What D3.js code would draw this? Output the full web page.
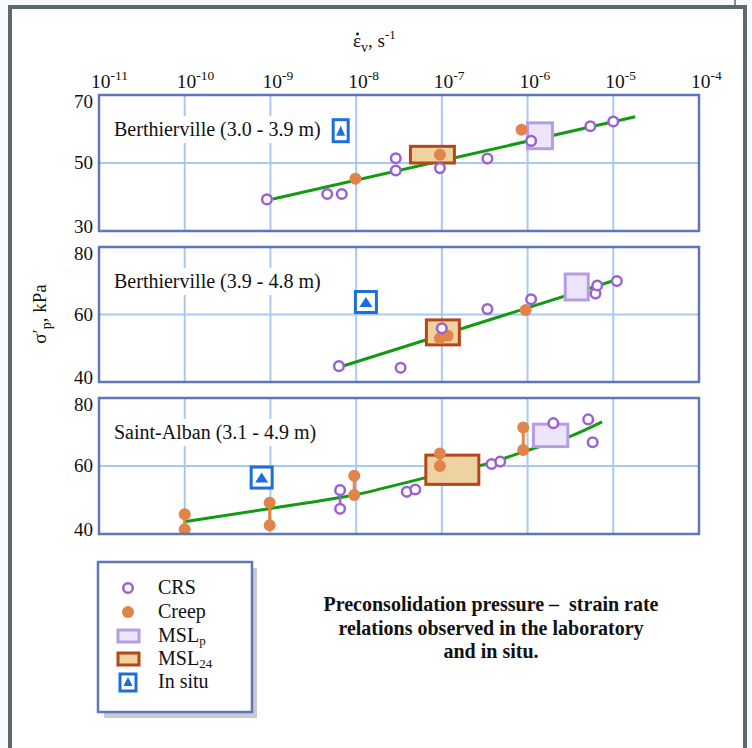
<!DOCTYPE html>
<html>
<head>
<script src="https://cdn.jsdelivr.net/npm/d3@7"></script>
<style>
body {
	margin: 0;
	background-color: #f7f9fa;
}
text {
	font-family: "Liberation Serif", "Times New Roman", serif;
	fill: #111;
}
</style>
</head>
<body>
<script>

// ---- data ----
var rateTicks = [1e-11, 1e-10, 1e-9, 1e-8, 1e-7, 1e-6, 1e-5, 1e-4];
var rateTickExp = ["-11", "-10", "-9", "-8", "-7", "-6", "-5", "-4"];

var panelNames = ["Berthierville (3.0 - 3.9 m)", "Berthierville (3.9 - 4.8 m)", "Saint-Alban (3.1 - 4.9 m)"];
var yDomains = [[30, 70], [40, 80], [40, 80]];
var yTickValues = [[30, 50, 70], [40, 60, 80], [40, 60, 80]];

// [strain rate, sigma'p]
var crsPoints = [
	[[9.1e-10, 39.3], [4.6e-9, 40.9], [6.8e-9, 40.9], [2.9e-8, 51.4], [2.9e-8, 47.8], [9.5e-8, 48.5], [3.4e-7, 51.3], [1.1e-6, 56.5], [5.4e-6, 60.8], [1.0e-5, 62.2]],
	[[6.3e-9, 44.7], [3.3e-8, 44.2], [1.0e-7, 55.9], [3.4e-7, 61.6], [1.1e-6, 64.5], [6.2e-6, 66.2], [6.5e-6, 68.6], [1.1e-5, 69.9]],
	[[6.5e-9, 52.9], [6.5e-9, 47.4], [3.9e-8, 52.4], [4.9e-8, 53.1], [3.8e-7, 60.6], [4.8e-7, 61.3], [2.0e-6, 72.6], [5.1e-6, 73.7], [5.75e-6, 67.0]]
];
var creepPoints = [
	[[9.8e-9, 45.4], [9.5e-8, 52.4], [8.5e-7, 59.8]],
	[[9.5e-8, 53.0], [1.17e-7, 53.7], [9.5e-7, 61.3]],
	[[1.0e-10, 45.8], [1.0e-10, 41.4], [9.8e-10, 49.2], [9.8e-10, 42.6], [9.5e-9, 57.1], [9.5e-9, 51.5], [9.5e-8, 63.7], [9.5e-8, 60.0], [8.9e-7, 71.3], [8.9e-7, 64.7]]
];
// [rate, low, high] pairs joined by a vertical bar
var creepLinks = [[], [], [[1.0e-10, 41.4, 45.8], [9.8e-10, 42.6, 49.2], [9.5e-9, 51.5, 57.1], [9.5e-8, 60.0, 63.7], [8.9e-7, 64.7, 71.3]]];
var crsLinks = [[], [], [[6.5e-9, 47.4, 52.9]]];

// [rate min, rate max, sigma min, sigma max]
var msl24Boxes = [[4.3e-8, 1.4e-7, 50.0, 54.9], [6.6e-8, 1.6e-7, 51.0, 58.4], [6.5e-8, 2.7e-7, 54.6, 63.2]];
var mslpBoxes = [[1.0e-6, 1.95e-6, 54.2, 61.8], [2.75e-6, 5.1e-6, 64.3, 72.0], [1.17e-6, 2.95e-6, 65.7, 72.3]];

var inSitu = [[6.6e-9, 59.5], [1.3e-8, 63.7], [7.9e-10, 56.6]];

var trendLines = [
	[[1.07e-9, 39.4], [1.8e-5, 63.6]],
	[[7.2e-9, 44.8], [1.0e-5, 70.0]],
	[[1.0e-10, 43.6], [1.0e-9, 47.5], [1.0e-8, 51.6], [6.3e-8, 56.5], [4.0e-7, 61.2], [1.0e-6, 64.6], [3.2e-6, 68.8], [7.4e-6, 73.0]]
];

var legendItems = ["CRS", "Creep", "MSL", "MSL", "In situ"];
var legendSubs = ["", "", "p", "24", ""];
var titleLines = ["Preconsolidation pressure \u2013\u00A0 strain rate", "relations observed in the laboratory", "and in situ."];

// ---- layout ----
var w = 752, h = 748;
var panelTop = [95, 247, 398];
var panelBottom = [231, 382, 534];
var situW = [15, 21, 21];
var situH = [22, 21, 21];

var cGrid = "#a9c9f1", cBorder = "#5f77ba", cCrs = "#9a62d0", cCreep = "#e0844a";
var cGreen = "#129a12", cBlue = "#1c6fd8";

var svg = d3.select("body").append("svg")
	.attr("width", w)
	.attr("height", h);

// outer frame
svg.append("rect")
	.attr("x", 10).attr("y", 7).attr("width", 735).attr("height", 800)
	.attr("fill", "white").attr("stroke", "#5c6870").attr("stroke-width", 4);
svg.append("line")
	.attr("x1", 735).attr("x2", 735).attr("y1", 0).attr("y2", 6)
	.attr("stroke", "#5c6870").attr("stroke-width", 1.5);

var x = d3.scaleLog().domain([1e-11, 1e-4]).range([99, 699]);

// top axis labels
var tl = svg.selectAll("text.tick").data(rateTicks).enter().append("text")
	.attr("class", "tick")
	.attr("x", function(d) { return x(d) - 8; })
	.attr("y", 88)
	.style("font-size", "19.5px");
tl.append("tspan").text("10");
tl.append("tspan").attr("dy", -8).style("font-size", "13.5px")
	.text(function(d, i) { return rateTickExp[i]; });

// top axis title: epsilon with a dot above
var eps = svg.append("text").attr("x", 353).attr("y", 47).style("font-size", "19px").text("\u03B5");
var eb = eps.node().getBBox();
svg.append("circle").attr("cx", eb.x + eb.width / 2 + 0.5).attr("cy", eb.y + 4).attr("r", 1.4).attr("fill", "#111");
var xt = svg.append("text").attr("x", eb.x + eb.width).attr("y", 47).style("font-size", "19px");
xt.append("tspan").attr("dy", 5).style("font-size", "14px").text("v");
xt.append("tspan").attr("dy", -5).text(", s");
xt.append("tspan").attr("dy", -8).style("font-size", "13px").text("-1");

// y title
var yt = svg.append("text")
	.attr("transform", "translate(46,314) rotate(-90)")
	.attr("text-anchor", "middle")
	.style("font-size", "19px");
yt.append("tspan").text("\u03C3\u2032");
yt.append("tspan").attr("dy", 5).style("font-size", "14px").text("p");
yt.append("tspan").attr("dy", -5).text(", kPa");

panelNames.forEach(function(name, i) {
	var y = d3.scaleLinear().domain(yDomains[i]).range([panelBottom[i], panelTop[i]]);
	var g = svg.append("g");

	// grid
	g.selectAll("line.vgrid").data(rateTicks.slice(1, -1)).enter().append("line")
		.attr("x1", function(d) { return x(d); })
		.attr("x2", function(d) { return x(d); })
		.attr("y1", panelTop[i]).attr("y2", panelBottom[i])
		.attr("stroke", cGrid).attr("stroke-width", 2);
	g.append("line")
		.attr("x1", x(1e-11)).attr("x2", x(1e-4))
		.attr("y1", y(yTickValues[i][1])).attr("y2", y(yTickValues[i][1]))
		.attr("stroke", cGrid).attr("stroke-width", 2);

	// panel label on white
	var lab = g.append("text")
		.attr("x", 114).attr("y", panelTop[i] + 41)
		.style("font-size", "20px")
		.text(name);
	var bb = lab.node().getBBox();
	g.insert("rect", "text")
		.attr("x", bb.x - 3).attr("y", bb.y - 2)
		.attr("width", bb.width + 6).attr("height", bb.height + 4)
		.attr("fill", "white");

	// trend
	g.append("path")
		.datum(trendLines[i])
		.attr("d", d3.line()
			.x(function(d) { return x(d[0]); })
			.y(function(d) { return y(d[1]); })
			.curve(d3.curveMonotoneX))
		.attr("fill", "none").attr("stroke", cGreen).attr("stroke-width", 3);

	// MSL boxes
	function box(b, fill, stroke, sw) {
		g.append("rect")
			.attr("x", x(b[0])).attr("y", y(b[3]))
			.attr("width", x(b[1]) - x(b[0])).attr("height", y(b[2]) - y(b[3]))
			.attr("fill", fill).attr("stroke", stroke).attr("stroke-width", sw);
	}
	box(msl24Boxes[i], "#efd2a2", "#b3461b", 3);
	box(mslpBoxes[i], "#ede6fb", "#b69ce2", 3);

	// links
	g.selectAll("line.clink").data(creepLinks[i]).enter().append("line")
		.attr("x1", function(d) { return x(d[0]); })
		.attr("x2", function(d) { return x(d[0]); })
		.attr("y1", function(d) { return y(d[1]); })
		.attr("y2", function(d) { return y(d[2]); })
		.attr("stroke", cCreep).attr("stroke-width", 3);
	g.selectAll("line.plink").data(crsLinks[i]).enter().append("line")
		.attr("x1", function(d) { return x(d[0]); })
		.attr("x2", function(d) { return x(d[0]); })
		.attr("y1", function(d) { return y(d[1]); })
		.attr("y2", function(d) { return y(d[2]); })
		.attr("stroke", cCrs).attr("stroke-width", 2.5);

	// creep
	g.selectAll("circle.creep").data(creepPoints[i]).enter().append("circle")
		.attr("cx", function(d) { return x(d[0]); })
		.attr("cy", function(d) { return y(d[1]); })
		.attr("r", 6)
		.attr("fill", cCreep);

	// CRS
	g.selectAll("circle.crs").data(crsPoints[i]).enter().append("circle")
		.attr("cx", function(d) { return x(d[0]); })
		.attr("cy", function(d) { return y(d[1]); })
		.attr("r", 4.8)
		.attr("fill", "white").attr("stroke", cCrs).attr("stroke-width", 2.5);

	// in situ
	var sx = x(inSitu[i][0]), sy = y(inSitu[i][1]);
	g.append("rect")
		.attr("x", sx - situW[i] / 2).attr("y", sy - situH[i] / 2)
		.attr("width", situW[i]).attr("height", situH[i])
		.attr("fill", "white").attr("stroke", cBlue).attr("stroke-width", 3);
	var tw = situW[i] < 18 ? 4.5 : 6.5;
	g.append("path")
		.attr("d", "M" + (sx - tw) + "," + (sy + 5) + "L" + (sx + tw) + "," + (sy + 5) + "L" + sx + "," + (sy - 5) + "Z")
		.attr("fill", cBlue);

	// frame
	g.append("rect")
		.attr("x", x(1e-11)).attr("y", panelTop[i])
		.attr("width", x(1e-4) - x(1e-11)).attr("height", panelBottom[i] - panelTop[i])
		.attr("fill", "none").attr("stroke", cBorder).attr("stroke-width", 2.5);

	// y labels
	g.selectAll("text.ylab").data(yTickValues[i]).enter().append("text")
		.attr("x", 93)
		.attr("y", function(d, k) { return k === 0 ? y(d) + 2 : (k === 2 ? y(d) + 13 : y(d) + 6); })
		.attr("text-anchor", "end")
		.style("font-size", "19px")
		.text(function(d) { return d; });
});

// legend
var lg = svg.append("g");
lg.append("rect").attr("x", 104).attr("y", 568).attr("width", 153).attr("height", 150).attr("fill", "#c9cbcd");
lg.append("rect").attr("x", 98).attr("y", 562).attr("width", 154).attr("height", 150)
	.attr("fill", "white").attr("stroke", cBorder).attr("stroke-width", 2.5);
var rowY = [588, 612, 636, 659, 682];
lg.append("circle").attr("cx", 128).attr("cy", rowY[0]).attr("r", 4.8)
	.attr("fill", "white").attr("stroke", cCrs).attr("stroke-width", 2.5);
lg.append("circle").attr("cx", 128).attr("cy", rowY[1]).attr("r", 6).attr("fill", cCreep);
lg.append("rect").attr("x", 118).attr("y", rowY[2] - 6).attr("width", 21).attr("height", 12)
	.attr("fill", "#ede6fb").attr("stroke", "#b69ce2").attr("stroke-width", 3);
lg.append("rect").attr("x", 118).attr("y", rowY[3] - 6).attr("width", 21).attr("height", 12)
	.attr("fill", "#efd2a2").attr("stroke", "#b3461b").attr("stroke-width", 3);
lg.append("rect").attr("x", 120).attr("y", rowY[4] - 8).attr("width", 16).attr("height", 17)
	.attr("fill", "white").attr("stroke", cBlue).attr("stroke-width", 3);
lg.append("path")
	.attr("d", "M" + 123.5 + "," + (rowY[4] + 4) + "L" + 132.5 + "," + (rowY[4] + 4) + "L128," + (rowY[4] - 5) + "Z")
	.attr("fill", cBlue);

var lt = lg.selectAll("text.leg").data(legendItems).enter().append("text")
	.attr("class", "leg")
	.attr("x", 158)
	.attr("y", function(d, i) { return rowY[i] + 6; })
	.style("font-size", "20px");
lt.append("tspan").text(function(d) { return d; });
lt.append("tspan").attr("dy", 3).style("font-size", "13px")
	.text(function(d, i) { return legendSubs[i]; });

// caption
svg.selectAll("text.title").data(titleLines).enter().append("text")
	.attr("x", 491)
	.attr("y", function(d, i) { return 611 + i * 23.5; })
	.attr("text-anchor", "middle")
	.style("font-size", "20px")
	.style("font-weight", "bold")
	.text(function(d) { return d; });

</script>
</body>
</html>
